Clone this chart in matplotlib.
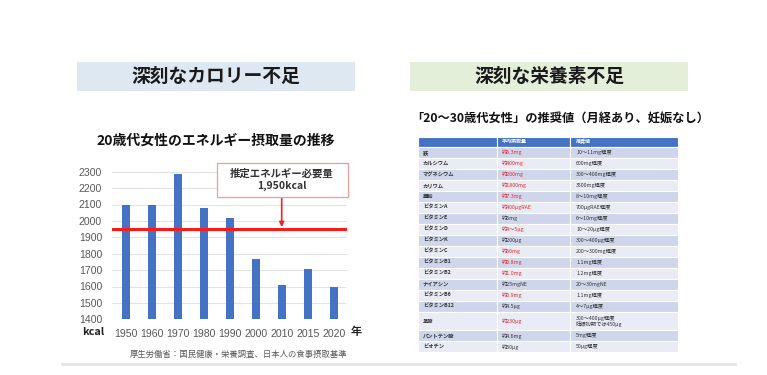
import matplotlib
matplotlib.use("Agg")
import matplotlib.pyplot as plt
from matplotlib.patches import Rectangle

plt.rcParams['font.family'] = ['Noto Sans CJK JP', 'DejaVu Sans']

# ---------------- data ----------------
years = ["1950", "1960", "1970", "1980", "1990", "2000", "2010", "2015", "2020"]
energy_kcal = [2100, 2095, 2285, 2080, 2020, 1765, 1610, 1705, 1600]
required_kcal = 1950
y_ticks = [1400, 1500, 1600, 1700, 1800, 1900, 2000, 2100, 2200, 2300]

left_banner = "深刻なカロリー不足"
right_banner = "深刻な栄養素不足"
chart_title = "20歳代女性のエネルギー摂取量の推移"
annot_text = "推定エネルギー必要量\n1,950kcal"
source_text = "厚生労働省：国民健康・栄養調査、日本人の食事摂取基準"
table_title = "「20～30歳代女性」の推奨値（月経あり、妊娠なし）"

table_header = ["", "平均摂取量", "推奨値"]
nutrients = ["鉄", "カルシウム", "マグネシウム", "カリウム", "亜鉛", "ビタミンA",
             "ビタミンE", "ビタミンD", "ビタミンK", "ビタミンC", "ビタミンB1",
             "ビタミンB2", "ナイアシン", "ビタミンB6", "ビタミンB12", "葉酸",
             "パントテン酸", "ビオチン"]
intake = ["約6.3mg", "約400mg", "約200mg", "約1800mg", "約7.3mg", "約400μgRAE",
          "約6mg", "約4～5μg", "約200μg", "約60mg", "約0.8mg", "約1.0mg",
          "約25mgNE", "約0.9mg", "約4.5μg", "約230μg", "約4.6mg", "約50μg"]
recommended = ["10～11mg程度", "600mg程度", "300～400mg程度", "3500mg程度",
               "8～10mg程度", "700μgRAE程度", "6～10mg程度", "10～20μg程度",
               "300～400μg程度", "200～300mg程度", "1.1mg程度", "1.2mg程度",
               "20～30mgNE", "1.1mg程度", "4～7μg程度",
               "300～400μg程度\n妊娠初期では450μg", "5mg程度", "50μg程度"]
intake_short = [True, True, True, True, True, True, False, True, False, True,
                True, True, False, True, False, True, False, False]

# ---------------- figure ----------------
W, H = 767, 375
fig = plt.figure(figsize=(W / 100, H / 100), dpi=100)
fig.patch.set_facecolor("white")


def fx(x):
    return x / W


def fy(y):
    return 1 - y / H


# banners
fig.patches.append(Rectangle((fx(77), fy(91)), fx(355) - fx(77), fy(62) - fy(91),
                             transform=fig.transFigure, facecolor="#DEE8F3",
                             edgecolor="none", zorder=0))
fig.patches.append(Rectangle((fx(410), fy(91)), fx(688) - fx(410), fy(62) - fy(91),
                             transform=fig.transFigure, facecolor="#E4EFDA",
                             edgecolor="none", zorder=0))
fig.text(fx(216), fy(76), left_banner, ha="center", va="center", fontsize=13.5,
         fontweight="bold", color="#1a1a1a")
fig.text(fx(549), fy(76), right_banner, ha="center", va="center", fontsize=13.5,
         fontweight="bold", color="#1a1a1a")

# ---------------- bar chart ----------------
ax = fig.add_axes([fx(111.7), fy(319.3), fx(346.7) - fx(111.7), fy(171.7) - fy(319.3)])
xs = list(range(len(years)))
ax.bar(xs, energy_kcal, width=0.32, color="#4472C4", zorder=3)
ax.set_ylim(1400, 2300)
ax.set_xlim(-0.54, 8.5)
ax.set_yticks(y_ticks)
ax.set_yticklabels([str(v) for v in y_ticks])
ax.set_xticks(xs)
ax.set_xticklabels(years)
ax.tick_params(axis="both", length=0, colors="#595959")
ax.tick_params(axis="x", pad=7)
ax.tick_params(axis="y", pad=7)
for lab in ax.get_xticklabels() + ax.get_yticklabels():
    lab.set_family(["Liberation Sans", "DejaVu Sans"])
    lab.set_fontsize(7.6)
ax.grid(axis="y", color="#E3E3E3", lw=0.8, zorder=0)
for s in ax.spines.values():
    s.set_visible(False)
ax.axhline(required_kcal, color="#FF1A1A", lw=2.2, zorder=4)
ax.annotate("", xy=(6, required_kcal + 12), xytext=(6, 2146),
            arrowprops=dict(arrowstyle="-|>", color="#E8262C", lw=1.2,
                            mutation_scale=7, shrinkA=0, shrinkB=0),
            annotation_clip=False, zorder=5)

fig.text(fx(216), fy(141), chart_title, ha="center", va="center", fontsize=10,
         fontweight="bold", color="#111111")
fig.patches.append(Rectangle((fx(217), fy(197)), fx(348) - fx(217), fy(163) - fy(197),
                             transform=fig.transFigure, facecolor="white",
                             edgecolor="#F19B9B", lw=0.9, zorder=3))
fig.text(fx(282), fy(180), annot_text, ha="center", va="center", fontsize=7.5,
         fontweight="bold", color="#333333", linespacing=1.25, zorder=4)
fig.text(fx(93), fy(332), "kcal", ha="center", va="center", fontsize=7.8,
         fontweight="bold", color="#222222")
fig.text(fx(356), fy(332), "年", ha="center", va="center", fontsize=8,
         fontweight="bold", color="#222222")
fig.text(fx(347), fy(354), source_text, ha="right", va="center", fontsize=6,
         color="#595959")

# separator line
fig.add_artist(plt.Line2D([fx(62), fx(735)], [fy(364), fy(364)],
                          transform=fig.transFigure, color="#E6E6E6", lw=2))

# ---------------- table ----------------
fig.text(fx(411), fy(118), table_title, ha="left", va="center", fontsize=8.8,
         fontweight="bold", color="#111111")

tx0, tx1 = 418, 678
ty0, ty1 = 136.7, 356
tax = fig.add_axes([fx(tx0), fy(ty1), fx(tx1) - fx(tx0), fy(ty0) - fy(ty1)])
tax.set_xlim(tx0, tx1)
tax.set_ylim(ty1, ty0)
tax.axis("off")

col_edges = [418, 497, 570, 678]
text_x = [423, 502, 576]
header_h = 10.3
row_heights = [18.4 if "\n" in r else 11.0 for r in recommended]

# header
for c in range(3):
    tax.add_patch(Rectangle((col_edges[c], ty0), col_edges[c + 1] - col_edges[c], header_h,
                            facecolor="#4472C4", edgecolor="white", lw=0.8))
    tax.text(text_x[c], ty0 + header_h / 2, table_header[c], ha="left", va="center",
             fontsize=3.6, color="white", fontweight="bold")

y = ty0 + header_h
for i, name in enumerate(nutrients):
    h = row_heights[i]
    fc = "#CFD5EA" if i % 2 == 0 else "#E9EBF5"
    for c in range(3):
        tax.add_patch(Rectangle((col_edges[c], y), col_edges[c + 1] - col_edges[c], h,
                                facecolor=fc, edgecolor="white", lw=0.8))
    yc = y + h / 2
    tax.text(text_x[0], yc, name, ha="left", va="center", fontsize=3.8,
             color="#333333", fontweight="bold")
    tax.text(text_x[1], yc, intake[i], ha="left", va="center", fontsize=3.8,
             color="#E8262C" if intake_short[i] else "#333333")
    tax.text(text_x[2], yc, recommended[i], ha="left", va="center", fontsize=3.8,
             color="#333333", linespacing=1.0)
    y += h

fig.savefig("out.png", dpi=100, facecolor="white")
